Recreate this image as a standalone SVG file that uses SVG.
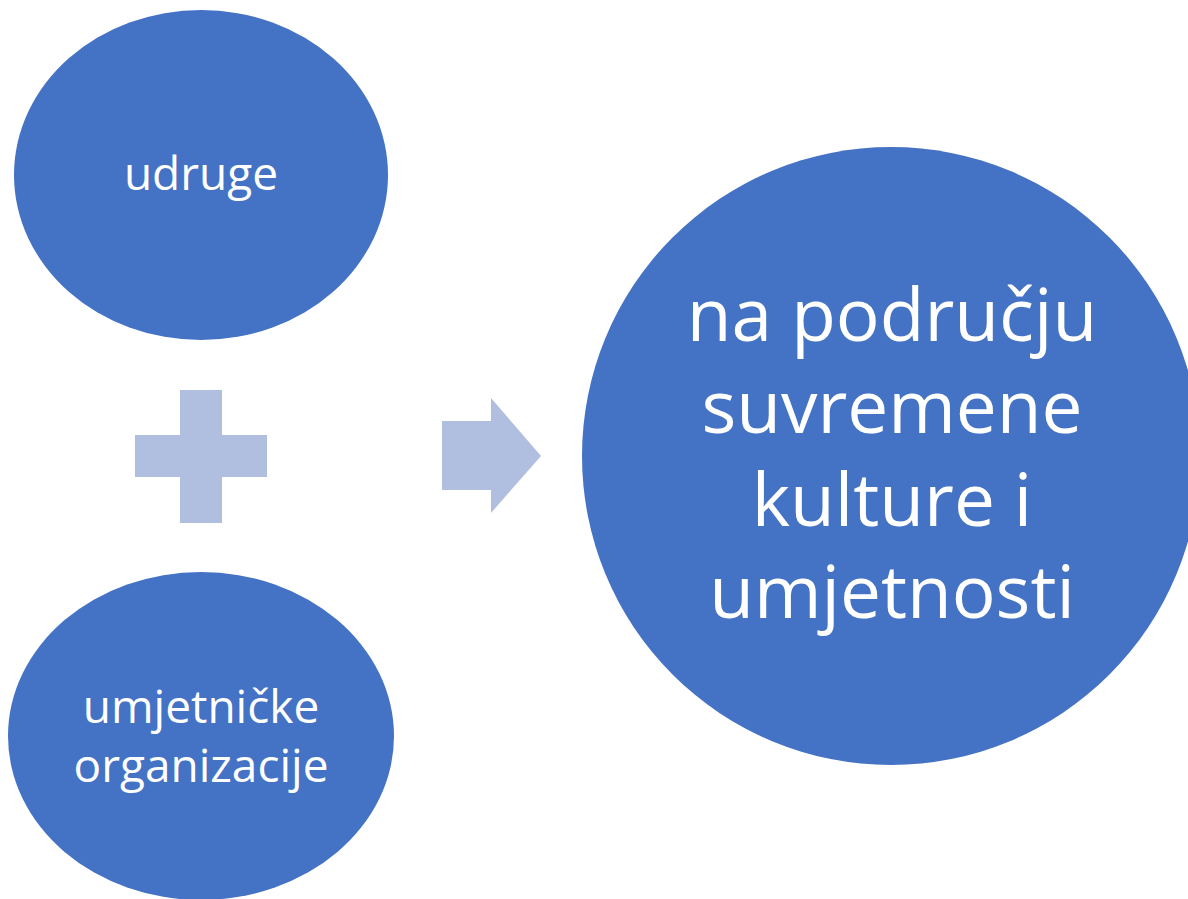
<svg xmlns="http://www.w3.org/2000/svg" width="1188" height="899" viewBox="0 0 1188 899">
<style>
.node{fill:#4472C4;}
.sym{fill:#B0BEDF;}
.lbl{fill:#FFFFFF;font-family:"Open Sans","Noto Sans","Liberation Sans",sans-serif;text-anchor:middle;}
.s{font-size:46px;}
.b{font-size:73px;}
</style>
<rect width="1188" height="899" fill="#FFFFFF"/>
<g id="node-udruge">
<ellipse class="node" cx="201" cy="175" rx="187" ry="165"/>
<text class="lbl s" x="201" y="190">udruge</text>
</g>
<g id="node-organizacije">
<ellipse class="node" cx="201" cy="736" rx="193" ry="164"/>
<text class="lbl s" x="201" y="723">umjetničke</text>
<text class="lbl s" x="201" y="782">organizacije</text>
</g>
<g id="node-result">
<circle class="node" cx="891" cy="456" r="309"/>
<text class="lbl b" x="892" y="341">na području</text>
<text class="lbl b" x="892" y="433">suvremene</text>
<text class="lbl b" x="892" y="526">kulture i</text>
<text class="lbl b" x="892" y="618">umjetnosti</text>
</g>
<g id="connectors">
<path id="plus" class="sym" d="M180,390 H222 V435 H267 V477 H222 V523 H180 V477 H135 V435 H180 Z"/>
<path id="arrow" class="sym" d="M442,421 H491 V398 L541,456 L491,513 V490 H442 Z"/>
</g>
</svg>
